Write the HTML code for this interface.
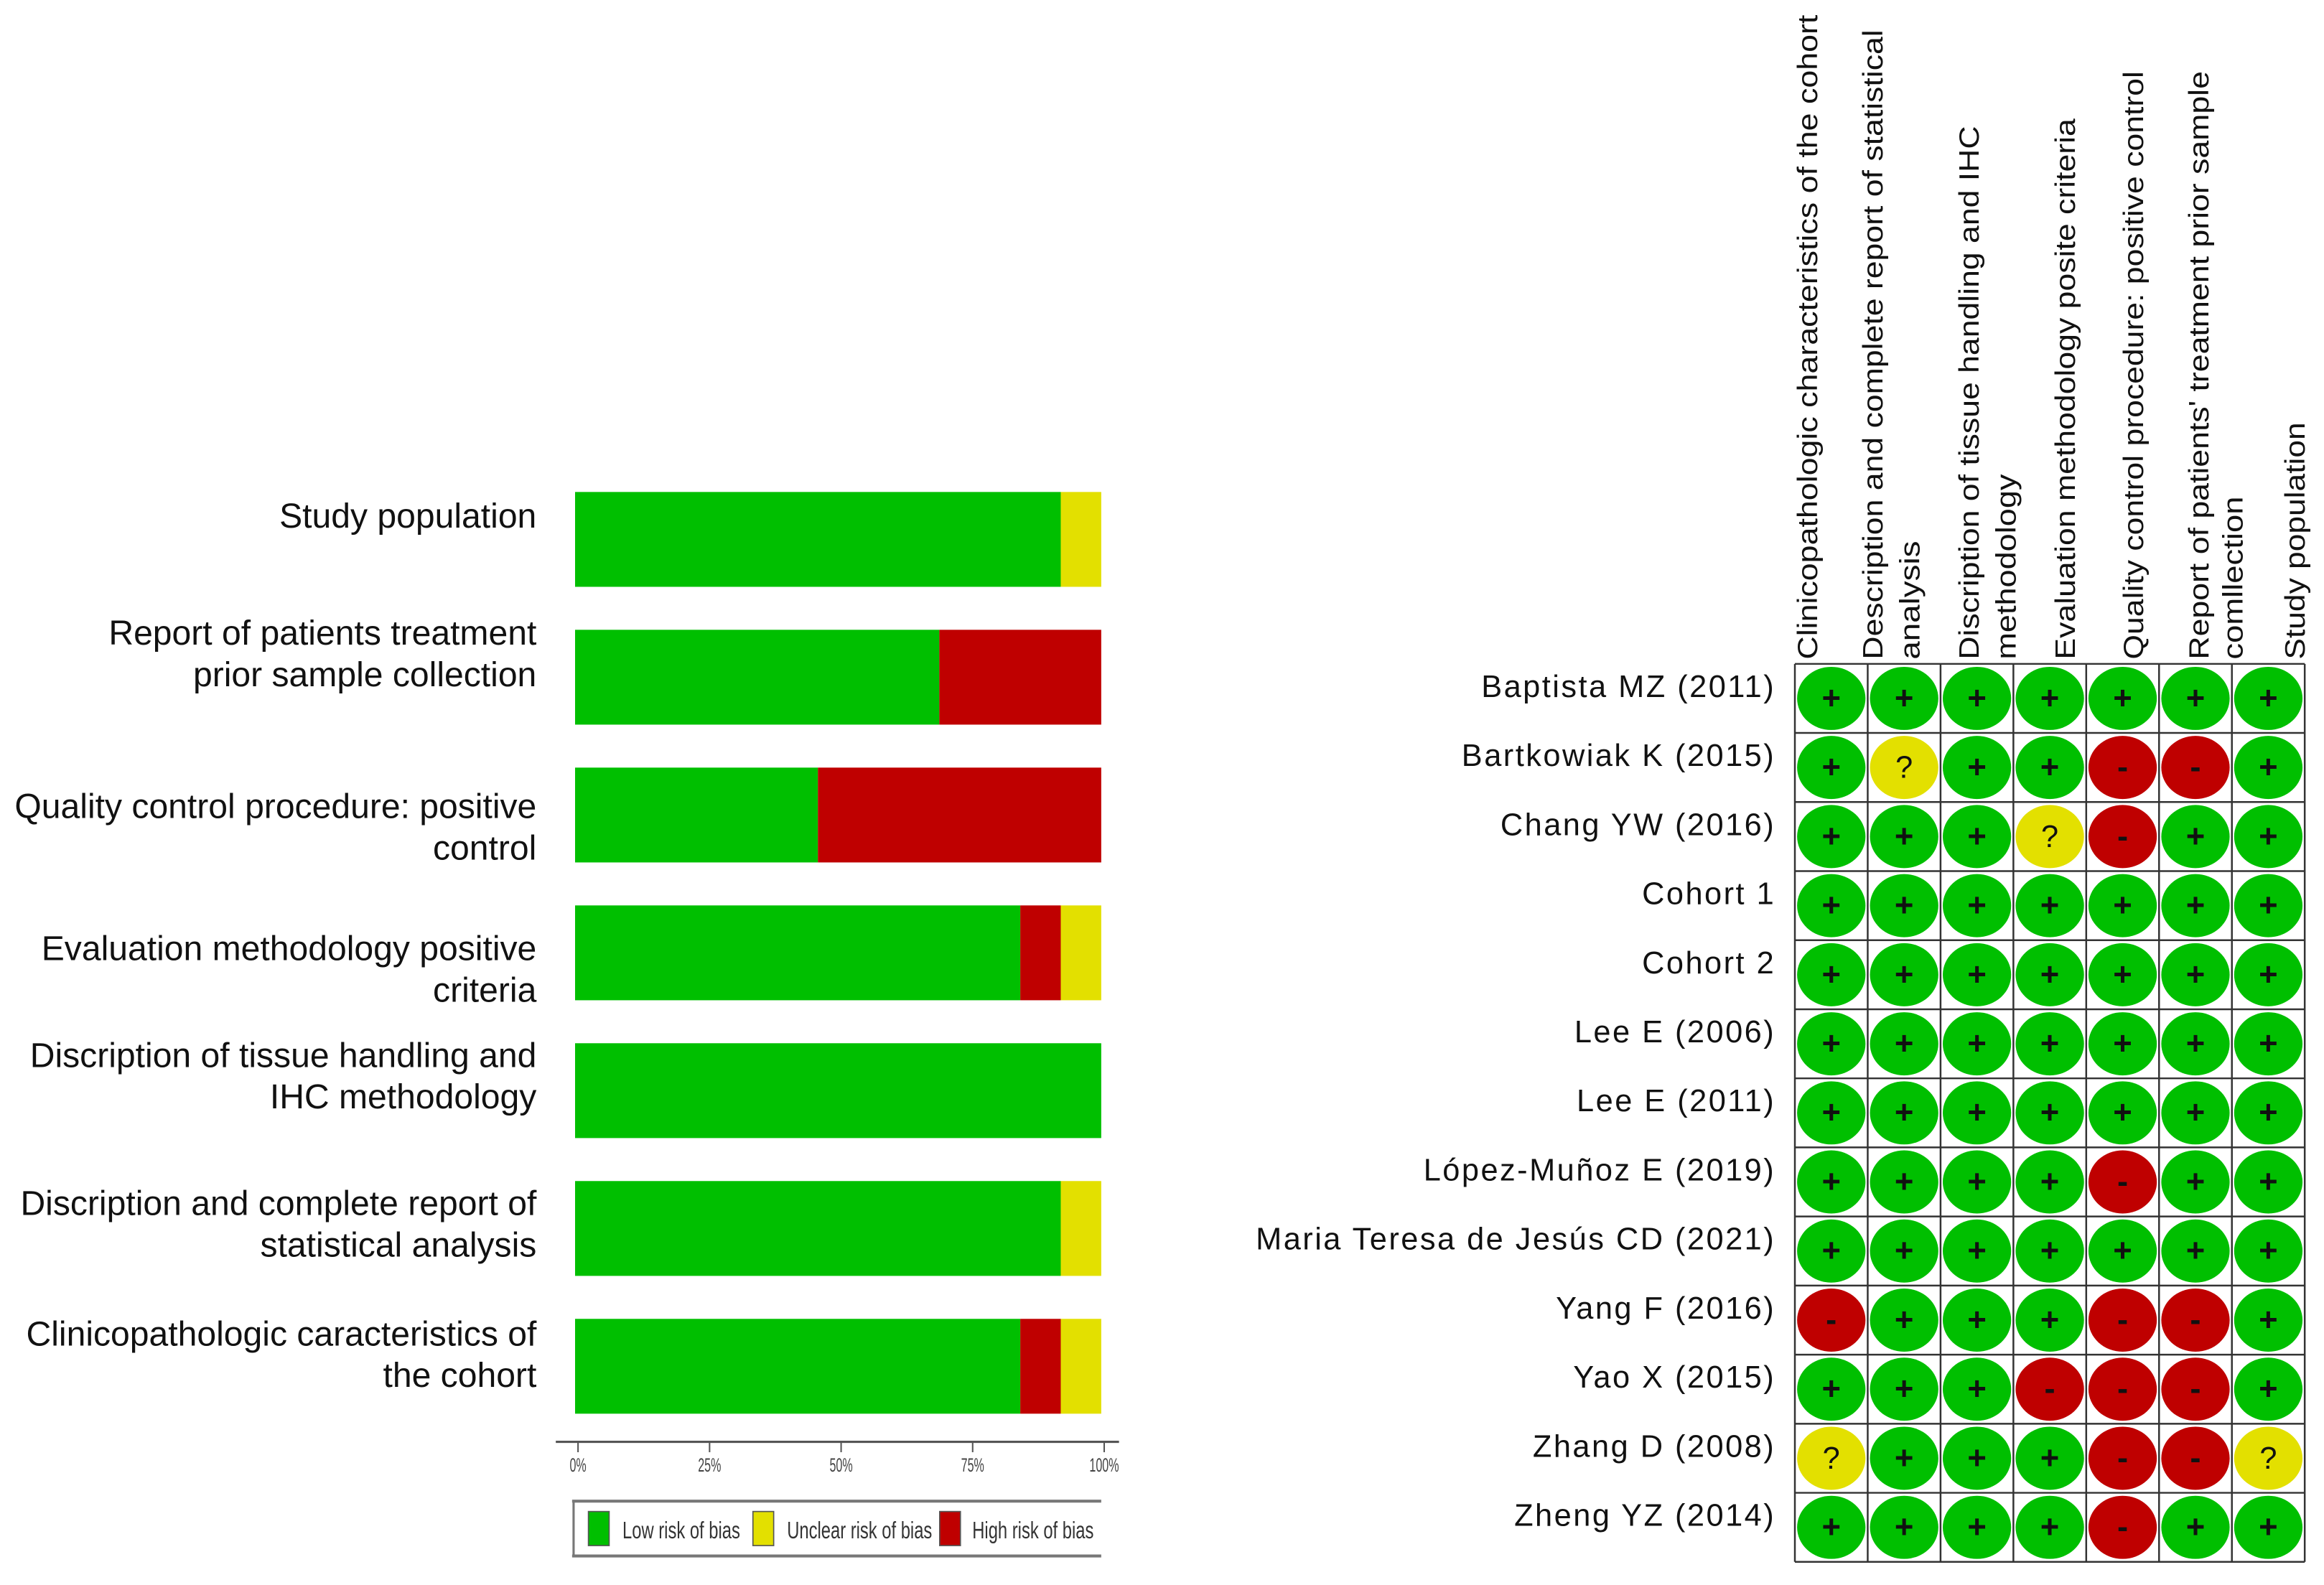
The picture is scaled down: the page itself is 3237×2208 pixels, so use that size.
<!DOCTYPE html>
<html><head><meta charset="utf-8"><style>
html,body{margin:0;padding:0;background:#fff;}
svg{display:block;font-family:"Liberation Sans",Arial,sans-serif;}
</style></head><body>
<svg id="chart" width="3237" height="2208" viewBox="0 0 1568 1069.6" preserveAspectRatio="none" xmlns="http://www.w3.org/2000/svg">
<g id="left"></g>
<g id="right"></g>
</svg>
<script>
// ---- Summary bar chart data (counts out of 13 studies) ----
const barDomains = [
  ["Study population"],
  ["Report of patients treatment","prior sample collection"],
  ["Quality control procedure: positive","control"],
  ["Evaluation methodology positive","criteria"],
  ["Discription of tissue handling and","IHC methodology"],
  ["Discription and complete report of","statistical analysis"],
  ["Clinicopathologic caracteristics of","the cohort"]
];
const lowCounts     = [12, 9, 6, 11, 13, 12, 11];
const highCounts    = [0, 4, 7, 1, 0, 0, 1];
const unclearCounts = [1, 0, 0, 1, 0, 1, 1];
const xTicks = [0, 25, 50, 75, 100];
const xTickLabels = ["0%","25%","50%","75%","100%"];

// ---- Traffic light grid data ----
const studies = ["Baptista MZ (2011)","Bartkowiak K (2015)","Chang YW (2016)","Cohort 1","Cohort 2","Lee E (2006)","Lee E (2011)","López-Muñoz E (2019)","Maria Teresa de Jesús CD (2021)","Yang F (2016)","Yao X (2015)","Zhang D (2008)","Zheng YZ (2014)"];
const gridJudgements = [
  "+++++++",
  "+?++--+",
  "+++?-++",
  "+++++++",
  "+++++++",
  "+++++++",
  "+++++++",
  "++++-++",
  "+++++++",
  "-+++--+",
  "+++---+",
  "?+++--?",
  "++++-++"
];
const colHeaders = [
  ["Clinicopathologic characteristics of the cohort"],
  ["Description and complete report of statistical","analysis"],
  ["Discription of tissue handling and IHC","methodology"],
  ["Evaluation methodology posite criteria"],
  ["Quality control procedure: positive control"],
  ["Report of patients' treatment prior sample","comllection"],
  ["Study population"]
];

const NS="http://www.w3.org/2000/svg";
function mk(tag, attrs, parent){const e=document.createElementNS(NS,tag);for(const k in attrs)e.setAttribute(k,attrs[k]);parent.appendChild(e);return e;}
const GREEN="#00BF00", RED="#BF0000", YELLOW="#E3E000";

// ---- Left chart ----
const L=document.getElementById('left');
const x0=388, x1=743;
const xScale=p=>x0+(x1-x0)*p/100;
const barTop=i=>332+93*i, barH=64;
const labelOffset=[16,2,26,29,8,15,10]; // layout: first-line centre offset from bar top
barDomains.forEach((lines,i)=>{
  const tot=lowCounts[i]+highCounts[i]+unclearCounts[i];
  const segs=[[lowCounts[i],GREEN,'low'],[highCounts[i],RED,'high'],[unclearCounts[i],YELLOW,'unclear']];
  let acc=0;
  segs.forEach(([v,c,n])=>{
    if(v<=0)return;
    const a=xScale(acc/tot*100), b=xScale((acc+v)/tot*100);
    const r=mk('rect',{x:a,y:barTop(i),width:b-a,height:barH,fill:c},L);
    
    
    acc+=v;
  });
  lines.forEach((ln,j)=>{
    const t=mk('text',{x:362,y:barTop(i)+labelOffset[i]+j*28+8,'text-anchor':'end','font-size':23.3,fill:'#111'},L);
    t.textContent=ln;
    
    
  });
});
// axis
const ax=mk('line',{x1:375,y1:973,x2:755,y2:973,stroke:'#555','stroke-width':1.5},L);


xTicks.forEach((p,i)=>{
  const x=xScale(p)+2;
  mk('line',{x1:x,y1:973,x2:x,y2:980,stroke:'#555','stroke-width':1},L);
  const t=mk('text',{x:x,y:993,'text-anchor':'middle','font-size':13,fill:'#444',transform:`translate(${x},0) scale(0.6,1) translate(${-x},0)`},L);
  t.textContent=xTickLabels[i];
  
  
});
// legend
const lg=mk('g',{},L);


mk('line',{x1:386,y1:1013,x2:743,y2:1013,stroke:'#777','stroke-width':2},lg);
mk('line',{x1:386,y1:1050,x2:743,y2:1050,stroke:'#777','stroke-width':2},lg);
mk('line',{x1:387,y1:1013,x2:387,y2:1050,stroke:'#777','stroke-width':1.5},lg);
[[397,GREEN,'Low risk of bias',420,'legend-low'],[508,YELLOW,'Unclear risk of bias',531,'legend-unclear'],[634,RED,'High risk of bias',656,'legend-high']].forEach(([sx,c,lab,tx,nm])=>{
  const g=mk('g',{},lg);
  
  
  mk('rect',{x:sx,y:1020,width:14,height:23,fill:c,stroke:'#555','stroke-width':0.8},g);
  const t=mk('text',{x:tx,y:1038,'font-size':16,fill:'#333',transform:`translate(${tx},0) scale(0.72,1) translate(${-tx},0)`},g);
  t.textContent=lab;
});

// ---- Right grid ----
const R=document.getElementById('right');
const gx0=1211, gx1=1555, gy0=448, gy1=1054;
const nC=colHeaders.length, nR=studies.length;
const cw=(gx1-gx0)/nC, rh=(gy1-gy0)/nR;
const colX=c=>gx0+cw*c, rowY=r=>gy0+rh*r;
gridJudgements.forEach((row,r)=>{
  [...row].forEach((j,c)=>{
    const cx=colX(c)+cw/2, cy=rowY(r)+rh/2;
    const col=j==='+'?GREEN:(j==='-'?RED:YELLOW);
    const e=mk('ellipse',{cx:cx,cy:cy,rx:cw/2-1.5,ry:rh/2-2,fill:col},R);
    
    
    const t=mk('text',{x:cx,y:cy+7,'text-anchor':'middle','font-size':j==='?'?21:22,'font-weight':j==='?'?'normal':'bold',fill:'#111'},R);
    t.textContent=j;
  });
});
for(let c=0;c<=nC;c++) mk('line',{x1:colX(c),y1:gy0,x2:colX(c),y2:gy1,stroke:'#333','stroke-width':1.2},R);
for(let r=0;r<=nR;r++) mk('line',{x1:gx0,y1:rowY(r),x2:gx1,y2:rowY(r),stroke:'#333','stroke-width':1.2},R);
studies.forEach((s,r)=>{
  const t=mk('text',{x:1198,y:rowY(r)+rh/2-1,'text-anchor':'end','font-size':21,fill:'#111','letter-spacing':1.2},R);
  t.textContent=s;
  
  
});
const headerX=[[1226],[1270,1295],[1335,1360],[1400],[1446],[1490,1513],[1555]];
const headerLen=[[435],[425],[360],[365],[397],[397],[160]];
const line2Len=[0,80,125,0,0,110,0];
colHeaders.forEach((lines,c)=>{
  lines.forEach((ln,j)=>{
    const x=headerX[c][j], len=j===0?headerLen[c][0]:line2Len[c];
    const t=mk('text',{x:0,y:0,'font-size':19,fill:'#111',transform:`translate(${x},445) rotate(-90)`,textLength:len,lengthAdjust:'spacingAndGlyphs'},R);
    t.textContent=ln;
    
    
  });
});
</script>
</body></html>
